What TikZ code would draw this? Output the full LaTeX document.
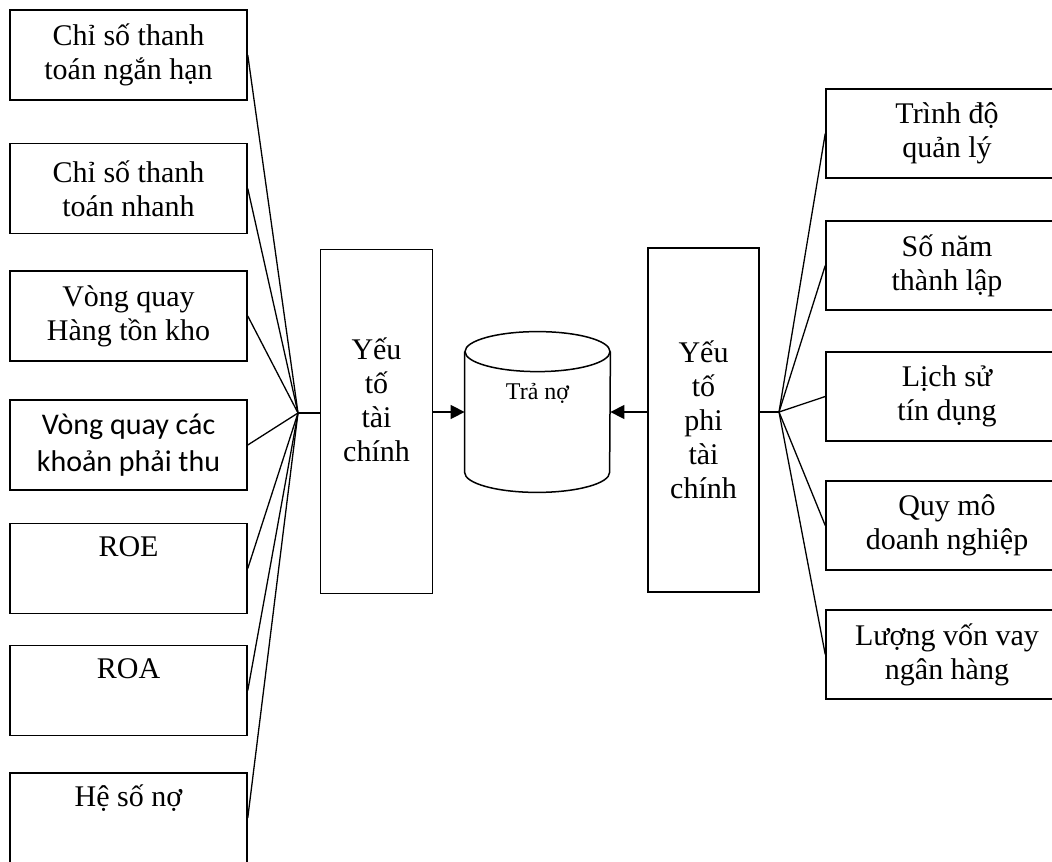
\documentclass[tikz,border=0pt]{standalone}
\usepackage{fontspec}
\setmainfont{Liberation Serif}
\newfontfamily\calibri{Carlito}
\usetikzlibrary{arrows.meta}

\tikzset{
	obox/.style={draw, line width=0.75pt, align=center, inner sep=2pt, font=\fontsize{15}{17}\selectfont},
	leftbox/.style={obox, minimum width=118.5pt, minimum height=45pt},
	rightbox/.style={obox, minimum width=121pt, minimum height=44.5pt},
	bigbox/.style={obox, minimum width=56pt, minimum height=172pt},
	noi/.style={line width=0.65pt},
	muiten/.style={line width=0.75pt, -{Triangle[length=7pt,width=7pt]}}
}

\begin{document}
\begin{tikzpicture}[x=0.5pt,y=-0.5pt]
			\useasboundingbox (0,0) rectangle (1052,861);
			% Vẽ các ô bên trái
			\node[leftbox] (l1) at (128.5,55) {Chỉ số thanh\\toán ngắn hạn};
			\node[leftbox] (l2) at (128.5,188.5) {Chỉ số thanh\\toán nhanh};
			\node[leftbox] (l3) at (128.5,316) {Vòng quay\\Hàng tồn kho};
			\node[leftbox, font=\calibri\fontsize{15}{18.5}\selectfont] (l4) at (128.5,445) {Vòng quay các\\khoản phải thu};
			\node[leftbox] (l5) at (128.5,568.5) {ROE\\\strut};
			\node[leftbox] (l6) at (128.5,690.5) {ROA\\\strut};
			\node[leftbox] (l7) at (128.5,818) {Hệ số nợ\\\strut};
			% Vẽ hai ô yếu tố
			\node[bigbox] (ytc) at (376.5,421.5) {Yếu\\tố\\tài\\chính\\\strut};
			\node[bigbox, minimum width=55.5pt] (ypt) at (703.5,420) {Yếu\\tố\\phi\\tài\\chính};
			% Vẽ các ô bên phải
			\node[rightbox] (r1) at (947,133.5) {Trình độ\\quản lý};
			\node[rightbox] (r2) at (947,265.5) {Số năm\\thành lập};
			\node[rightbox] (r3) at (947,396.5) {Lịch sử\\tín dụng};
			\node[rightbox] (r4) at (947,525.5) {Quy mô\\doanh nghiệp};
			\node[rightbox] (r5) at (947,654.5) {Lượng vốn vay\\ngân hàng};
			% Vẽ hình trụ
			\node[minimum width=72.5pt, minimum height=60pt, inner sep=0pt] (tra) at (537.5,412) {};
			\draw[line width=0.75pt] (tra.north west) -- (tra.south west)
				arc[start angle=180, end angle=360, x radius=36.25pt, y radius=10pt]
				-- (tra.north east);
			\draw[line width=0.75pt] (tra.north) ellipse [x radius=36.25pt, y radius=10pt];
			\node[font=\fontsize{12}{14}\selectfont] (tratxt) at (537.5,393) {Trả nợ};
			% Vẽ các đường nối
			\coordinate (hubL) at (298,413);
			\coordinate (hubR) at (779,412);
			\foreach \b in {l1,l2,l3,l4,l5,l6,l7}
			\draw[noi] (hubL) -- (\b.east);
			\foreach \b in {r1,r2,r3,r4,r5}
			\draw[noi] (hubR) -- (\b.west);
			\draw[noi] (hubL) -- (ytc.west |- hubL);
			\draw[noi] (hubR) -- (ypt.east |- hubR);
			\draw[muiten] (ytc.east |- tra.west) -- (tra.west);
			\draw[muiten] (ypt.west |- tra.east) -- (tra.east);
		\end{tikzpicture}
\end{document}
